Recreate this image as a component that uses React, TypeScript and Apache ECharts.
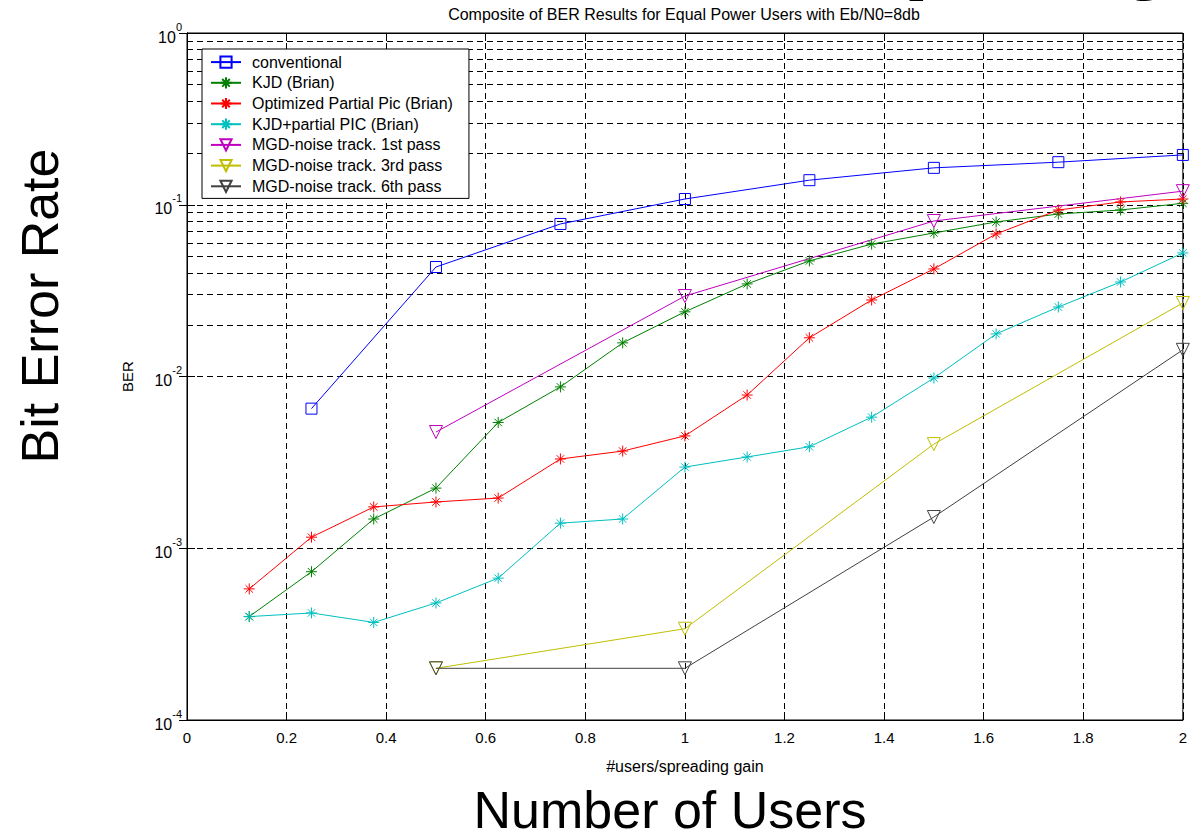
import React, { useEffect, useRef } from "react";
import * as echarts from "echarts";

// ---- data ----
const xEighths = [0.125, 0.25, 0.375, 0.5, 0.625, 0.75, 0.875, 1, 1.125, 1.25, 1.375, 1.5, 1.625, 1.75, 1.875, 2];
const xConv = [0.25, 0.5, 0.75, 1, 1.25, 1.5, 1.75, 2];
const xMgd = [0.5, 1, 1.5, 2];

const conventional = [0.0065, 0.0434, 0.0773, 0.108, 0.139, 0.164, 0.177, 0.195];
const kjd = [0.0004, 0.00073, 0.00148, 0.00224, 0.0054, 0.0087, 0.0157, 0.0238, 0.0346, 0.0471, 0.059, 0.0685, 0.0794, 0.0883, 0.0932, 0.102];
const optPartialPic = [0.00058, 0.00116, 0.00174, 0.00186, 0.00196, 0.00331, 0.00368, 0.00451, 0.0078, 0.0168, 0.0279, 0.0423, 0.0676, 0.0932, 0.1038, 0.108];
const kjdPartialPic = [0.0004, 0.00042, 0.00037, 0.00048, 0.00067, 0.0014, 0.00148, 0.00297, 0.0034, 0.0039, 0.0058, 0.0098, 0.0177, 0.0254, 0.0355, 0.0524];
const mgd1 = [0.00475, 0.0294, 0.0804, 0.12];
const mgd3 = [0.0002, 0.00034, 0.00404, 0.0268];
const mgd6 = [0.0002, 0.0002, 0.00152, 0.0143];

const seriesNames = [
  "conventional",
  "KJD (Brian)",
  "Optimized Partial Pic (Brian)",
  "KJD+partial PIC (Brian)",
  "MGD-noise track. 1st pass",
  "MGD-noise track. 3rd pass",
  "MGD-noise track. 6th pass",
];

const minorGridValues = [
  0.0002, 0.0003, 0.0004, 0.0005, 0.0006, 0.0007, 0.0008, 0.0009,
  0.002, 0.003, 0.004, 0.005, 0.006, 0.007, 0.008, 0.009,
  0.02, 0.03, 0.04, 0.05, 0.06, 0.07, 0.08, 0.09,
  0.2, 0.3, 0.4, 0.5, 0.6, 0.7, 0.8, 0.9,
];

const titleText = "Composite of BER Results for Equal Power Users with Eb/N0=8db";
const xAxisName = "#users/spreading gain";
const yAxisName = "BER";

const FONT = "Liberation Sans, Arial, sans-serif";
const SQUARE = "path://M0,0L10,0L10,10L0,10Z";
const ASTER = "path://M5,0L5,10M0,5L10,5M1.6,1.6L8.4,8.4M1.6,8.4L8.4,1.6";
const TRI_DOWN = "path://M0,0L10,0L5,8.66Z";

const zip = (xs: number[], ys: number[]) => xs.map((x, i) => [x, ys[i]]);

function mkSeries(name: string, xs: number[], ys: number[], color: string, symbol: string, size: number) {
  return {
    name,
    type: "line",
    data: zip(xs, ys),
    symbol,
    symbolSize: size,
    showSymbol: true,
    z: 2,
    lineStyle: { color, width: 1 },
    itemStyle: { color: "none", borderColor: color, borderWidth: 1 },
    emphasis: { disabled: true },
  };
}

export default function App() {
  const ref = useRef<HTMLDivElement>(null);
  useEffect(() => {
    if (!ref.current) return;
    const chart = echarts.init(ref.current, undefined, { renderer: "svg" });
    const dash = [6, 4];
    chart.setOption({
      animation: false,
      backgroundColor: "#fff",
      textStyle: { fontFamily: FONT },
      grid: { left: 187, top: 33, right: 4, bottom: 118, show: true, borderColor: "#000", borderWidth: 1, backgroundColor: "transparent" },
      legend: {
        z: 10,
        orient: "vertical",
        left: 202,
        top: 49,
        padding: [5, 16, 4, 8],
        itemWidth: 30,
        itemHeight: 14,
        itemGap: 4.5,
        selectedMode: false,
        backgroundColor: "#fff",
        borderColor: "#000",
        borderWidth: 1,
        textStyle: { fontSize: 16, lineHeight: 16, color: "#000", fontFamily: FONT, padding: [0, 0, 0, 6] },
        data: seriesNames,
      },
      xAxis: [
        {
          type: "value",
          min: 0,
          max: 2,
          interval: 0.2,
          name: xAxisName,
          nameLocation: "middle",
          nameGap: 38,
          nameTextStyle: { fontSize: 16, color: "#000", fontFamily: FONT },
          axisLine: { show: true, lineStyle: { color: "#000" } },
          axisTick: { show: true, inside: true, length: 8, lineStyle: { color: "#000" } },
          axisLabel: {
            fontSize: 15,
            color: "#000",
            margin: 10,
            formatter: (v: number) => String(parseFloat(v.toFixed(1))),
          },
          splitLine: { show: true, lineStyle: { type: dash, color: "#000", width: 1 } },
        },
        {
          type: "value",
          min: 0,
          max: 2,
          interval: 0.2,
          position: "top",
          axisLine: { show: true, lineStyle: { color: "#000" } },
          axisTick: { show: true, inside: true, length: 8, lineStyle: { color: "#000" } },
          axisLabel: { show: false },
          splitLine: { show: false },
        },
      ],
      yAxis: [
        {
          type: "log",
          logBase: 10,
          min: 0.0001,
          max: 1,
          name: yAxisName,
          nameLocation: "middle",
          nameGap: 52,
          nameTextStyle: { fontSize: 15, color: "#000", fontFamily: FONT },
          axisLine: { show: true, lineStyle: { color: "#000" } },
          axisTick: { show: true, inside: true, length: 8, lineStyle: { color: "#000" } },
          axisLabel: {
            margin: 5,
            formatter: (v: number) => `{b|10}{s|${Math.round(Math.log10(v))}}`,
            rich: {
              b: { fontSize: 16, color: "#000", fontFamily: FONT, lineHeight: 24, verticalAlign: "bottom" },
              s: { fontSize: 11, color: "#000", fontFamily: FONT, lineHeight: 9, verticalAlign: "top" },
            },
          },
          splitLine: { show: true, lineStyle: { type: dash, color: "#000", width: 1 } },
        },
        {
          type: "log",
          logBase: 10,
          min: 0.0001,
          max: 1,
          position: "right",
          axisLine: { show: true, lineStyle: { color: "#000" } },
          axisTick: { show: true, inside: true, length: 8, lineStyle: { color: "#000" } },
          axisLabel: { show: false },
          splitLine: { show: false },
        },
      ],
      graphic: [
        { type: "text", x: 684, y: 14, style: { text: titleText, fontSize: 16, fontFamily: FONT, fill: "#000", align: "center", verticalAlign: "middle" } },
        { type: "text", x: 40, y: 306, rotation: Math.PI / 2, style: { text: "Bit Error Rate", fontSize: 52, fontFamily: FONT, fill: "#000", align: "center", verticalAlign: "middle" } },
        { type: "text", x: 670, y: 810, style: { text: "Number of Users", fontSize: 52, fontFamily: FONT, fill: "#000", align: "center", verticalAlign: "middle" } },
        { type: "text", x: 1186, y: -53, style: { text: "Capacity", fontSize: 98, fontWeight: "bold", fontFamily: FONT, fill: "#000", align: "right", verticalAlign: "middle" } },
      ],
      series: [
        {
          name: "_grid",
          type: "line",
          data: [],
          z: 1,
          silent: true,
          markLine: {
            z: 1,
            silent: true,
            symbol: ["none", "none"],
            label: { show: false },
            lineStyle: { type: dash, color: "#000", width: 1 },
            emphasis: { disabled: true },
            data: minorGridValues.map((v) => ({ yAxis: v })),
          },
        },
        mkSeries(seriesNames[0], xConv, conventional, "#0000ff", SQUARE, 11),
        mkSeries(seriesNames[1], xEighths, kjd, "#008000", ASTER, 11),
        mkSeries(seriesNames[2], xEighths, optPartialPic, "#ff0000", ASTER, 11),
        mkSeries(seriesNames[3], xEighths, kjdPartialPic, "#00bfbf", ASTER, 11),
        mkSeries(seriesNames[4], xMgd, mgd1, "#bf00bf", TRI_DOWN, 13),
        mkSeries(seriesNames[5], xMgd, mgd3, "#bfbf00", TRI_DOWN, 13),
        mkSeries(seriesNames[6], xMgd, mgd6, "#404040", TRI_DOWN, 13),
      ],
    });
    return () => chart.dispose();
  }, []);
  return <div ref={ref} style={{ position: "fixed", left: 0, top: 0, width: 1190, height: 838 }} />;
}
